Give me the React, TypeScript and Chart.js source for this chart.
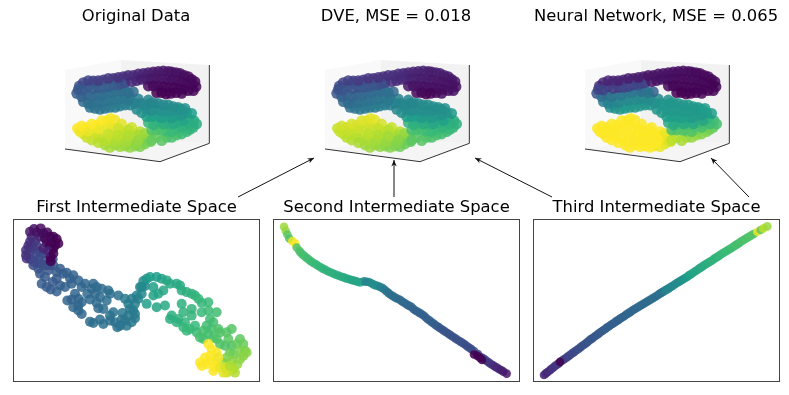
import React, { useEffect, useRef } from "react";
import { Chart, registerables } from "chart.js";

Chart.register(...registerables);

type P3 = number[];

// Shared picture of the S-curve: [x, y, tone in original, tone in DVE, tone in network]
const sCurveBottom: P3[] = [
  [165,285,.86,.85,1],[195,285,.85,.84,1],[225,288,.84,.82,1],[255,288,.82,.80,.98],[285,282,.79,.77,.95],
  [125,270,.9,.88,1],[155,265,.9,.88,1],[185,258,.9,.88,1],[215,265,.87,.85,1],[245,272,.85,.83,1],[275,278,.81,.79,.97],[302,275,.77,.75,.92],
  [100,252,.95,.9,1],[130,248,.95,.9,1],[160,240,.95,.91,1],[190,232,.94,.91,1],[220,245,.9,.88,1],[250,252,.88,.86,1],[280,262,.84,.83,.98],[300,258,.8,.8,.95],
  [82,235,1,.92,1],[110,232,1,.93,1],[140,225,1,.94,1],[170,212,.99,.95,1],[195,210,.98,.96,1],[215,222,.96,.94,1],[245,232,.93,.92,1],[270,245,.89,.89,1],
  [180,292,.86,.85,1],[210,290,.85,.83,1],[240,292,.83,.81,1],[270,290,.8,.78,.97],
  [110,262,.92,.89,1],[140,262,.92,.89,1],[170,272,.89,.87,1],[200,272,.88,.86,1],[230,275,.86,.84,1],[260,280,.83,.81,1],[290,270,.79,.78,.95],[145,278,.89,.87,1],
  [115,243,.97,.91,1],[145,236,.97,.92,1],[175,225,.97,.93,1],[205,235,.93,.91,1],[235,240,.9,.89,1],[265,255,.87,.86,1],[285,250,.85,.84,.97],[90,245,.98,.91,1],
  [175,252,.92,.9,1],[205,255,.9,.88,1],[235,258,.88,.86,1],[265,270,.84,.82,1],
  [95,228,1,.93,1],[125,222,1,.94,1],[155,212,1,.95,1],[182,205,.99,.96,1],
];

const sCurveMiddle: P3[] = [
  [320,262,.76,.74,.88],[350,262,.72,.72,.85],[380,255,.70,.70,.83],[410,245,.67,.68,.8],[430,232,.64,.66,.75],
  [320,240,.72,.70,.72],[350,245,.68,.68,.72],[380,238,.65,.66,.7],[405,225,.62,.64,.68],[432,212,.6,.62,.66],
  [295,218,.66,.64,.6],[325,222,.63,.62,.6],[355,225,.61,.6,.6],[385,218,.59,.58,.58],[415,205,.57,.56,.58],
  [290,200,.57,.56,.55],[320,203,.56,.55,.55],[350,205,.55,.54,.55],[380,200,.53,.52,.54],[410,188,.52,.5,.53],
  [260,178,.47,.46,.52],[290,178,.48,.47,.53],[320,180,.49,.48,.53],[350,185,.5,.49,.53],[380,178,.5,.49,.54],
  [240,142,.41,.41,.45],[265,147,.43,.43,.47],[295,150,.45,.44,.5],[325,160,.46,.46,.52],[355,165,.48,.48,.53],[385,172,.5,.5,.54],
  [120,172,.38,.38,.5],[150,178,.39,.4,.53],[180,172,.4,.41,.54],[210,168,.42,.42,.53],[240,165,.44,.43,.52],[270,160,.45,.45,.52],[300,160,.46,.46,.52],
  [100,155,.34,.33,.42],[130,158,.37,.35,.45],[160,155,.38,.36,.47],[190,150,.39,.37,.47],[220,145,.39,.38,.45],[250,125,.34,.34,.3],
  [80,130,.28,.27,.26],[110,135,.32,.3,.32],[140,135,.35,.32,.38],[170,130,.36,.33,.39],[200,125,.36,.35,.38],[225,120,.36,.35,.35],
  [305,270,.76,.74,.9],[335,272,.74,.73,.87],[365,262,.71,.71,.84],[395,252,.68,.69,.81],[420,238,.65,.67,.78],[440,222,.62,.63,.7],
  [305,240,.72,.7,.7],[335,240,.7,.69,.72],[365,245,.67,.67,.72],[395,232,.64,.65,.7],[420,222,.62,.63,.68],
  [310,225,.65,.63,.6],[340,222,.62,.61,.6],[370,222,.6,.59,.6],[400,212,.58,.57,.59],
  [305,200,.56,.55,.55],[335,203,.55,.54,.55],[365,203,.54,.53,.54],[395,195,.52,.51,.53],[425,190,.55,.53,.56],
  [275,188,.5,.49,.53],[305,182,.49,.48,.53],[335,183,.5,.49,.53],[365,182,.5,.49,.53],[395,178,.5,.49,.54],
  [255,160,.44,.44,.5],[285,165,.46,.46,.52],[310,158,.46,.46,.52],[340,165,.47,.48,.52],[370,170,.49,.49,.53],[405,175,.5,.5,.55],
  [135,175,.38,.39,.5],[165,175,.39,.4,.53],[195,172,.41,.41,.53],[225,165,.43,.42,.52],
  [115,160,.36,.34,.44],[145,158,.37,.36,.46],[175,152,.38,.37,.47],[205,148,.39,.38,.47],[235,150,.4,.4,.48],
  [95,140,.32,.3,.36],[125,140,.34,.32,.38],[155,135,.35,.33,.39],[185,128,.36,.34,.39],[215,125,.36,.35,.36],[235,128,.36,.36,.38],
];

const sCurveTop: P3[] = [
  [88,108,.26,.23,.12],[115,110,.27,.25,.14],[145,112,.29,.27,.16],[175,110,.3,.27,.2],[205,105,.28,.26,.24],[225,98,.22,.22,.2],
  [100,98,.21,.2,.1],[130,93,.19,.18,.1],[160,90,.17,.16,.09],[190,85,.15,.15,.08],[220,80,.13,.14,.07],[250,76,.11,.13,.05],
  [280,70,.09,.11,.05],[310,66,.07,.1,.04],[340,63,.06,.09,.03],[365,66,.05,.08,.03],[390,70,.04,.08,.02],[415,80,.03,.07,.02],[435,95,.02,.06,.02],
  [260,92,.1,.12,.05],[290,88,.07,.1,.04],[320,85,.06,.08,.03],[350,88,.04,.07,.02],[380,92,.03,.06,.02],[410,100,.02,.05,.01],[438,110,.02,.05,.01],
  [295,108,.03,.06,.02],[325,108,.02,.05,.01],[355,112,.01,.04,.01],[385,115,.01,.04,.01],[415,122,.01,.04,.01],
  [320,128,.0,.02,.0],[348,132,.0,.0,.0],[378,128,.0,.02,.0],
  [85,118,.27,.24,.2],[100,120,.28,.26,.2],[130,115,.29,.26,.18],[160,112,.3,.27,.2],[190,105,.29,.26,.2],[215,100,.25,.24,.2],
  [115,92,.2,.19,.1],[145,92,.18,.17,.09],[175,85,.16,.15,.08],[205,82,.14,.14,.07],[235,76,.12,.13,.05],[265,72,.1,.12,.05],
  [295,68,.08,.1,.04],[325,64,.06,.09,.03],[355,64,.05,.08,.03],[378,68,.04,.08,.02],[403,76,.03,.07,.02],[425,88,.02,.06,.02],
  [245,95,.11,.13,.05],[275,88,.08,.11,.04],[305,86,.06,.09,.03],[335,86,.05,.07,.02],[365,90,.03,.06,.02],[395,96,.02,.05,.01],[425,105,.02,.05,.01],
  [310,108,.02,.05,.01],[340,110,.01,.04,.01],[370,113,.01,.04,.01],[400,118,.01,.04,.01],[430,122,.01,.04,.01],
  [335,128,0,.02,0],[362,130,0,.01,0],[395,130,.01,.03,.01],
];

// First intermediate space: [x, y, tone]
const firstSpaceBlue: P3[] = [
  [70,150,.24],[90,175,.27],[95,205,.29],[115,165,.27],[128,200,.28],[122,222,.29],[140,170,.29],[160,175,.3],[150,210,.3],[180,190,.31],
  [172,255,.32],[195,235,.32],[190,275,.33],[215,295,.33],[205,250,.33],[215,215,.33],[232,235,.34],[250,205,.34],[240,252,.34],[275,220,.35],[260,262,.35],
  [300,235,.36],[280,280,.36],[325,240,.36],[240,318,.36],[270,312,.36],[300,300,.37],[315,320,.37],[322,335,.38],[350,330,.39],[375,308,.41],
  [338,292,.4],[355,265,.42],[380,240,.44],[390,215,.46],[400,197,.48],[370,285,.42],[385,250,.45],[345,250,.41],[310,290,.38],[335,312,.39],
  [85,160,.26],[105,185,.28],[100,150,.26],[130,150,.28],[150,160,.29],[170,172,.3],[140,190,.29],[190,180,.31],[165,215,.31],[110,215,.29],
  [140,228,.3],[185,205,.31],[205,195,.32],[225,205,.33],[185,252,.32],[205,270,.33],[215,260,.33],[205,285,.33],[245,220,.34],[260,215,.35],
  [295,225,.36],[255,235,.34],[270,245,.35],[290,255,.36],[265,278,.35],[250,322,.36],[280,325,.37],[300,315,.37],[330,330,.38],[345,315,.39],
  [355,300,.4],[365,320,.4],[375,295,.41],[360,280,.41],[375,265,.43],[365,250,.42],[395,235,.46],[405,212,.48],[410,190,.52],[395,215,.47],
];
const firstSpaceGreen: P3[] = [
  [420,185,.55],[455,190,.58],[480,205,.6],[510,210,.61],[530,230,.63],[555,240,.65],[575,262,.66],[595,260,.67],[620,290,.69],[610,320,.7],
  [430,240,.57],[460,225,.59],[410,265,.56],[440,275,.58],[465,270,.6],[485,300,.62],[515,265,.63],[545,280,.65],[575,290,.67],[525,320,.66],
  [560,350,.68],[580,370,.71],[605,340,.71],[610,365,.72],[630,350,.72],[665,340,.73],[645,390,.72],[665,390,.72],[600,310,.69],[590,330,.69],
  [520,335,.66],[480,310,.62],[540,340,.67],[570,365,.7],[690,370,.75],[700,385,.77],[705,405,.79],[690,430,.82],[660,410,.76],[640,440,.84],[682,445,.84],
  [440,185,.55],[430,215,.56],[445,235,.58],[470,195,.59],[500,205,.6],[515,225,.62],[545,235,.64],[565,250,.66],[595,285,.68],[520,290,.64],
  [545,300,.65],[505,310,.64],[500,320,.63],[530,345,.67],[555,330,.67],[580,345,.7],[595,355,.7],[625,340,.72],[650,350,.73],[620,370,.72],
  [630,385,.72],[655,370,.74],[680,385,.76],[670,415,.78],[650,425,.8],[690,405,.8],[700,420,.82],[665,435,.82],
];
const firstSpaceYellow: P3[] = [
  [670,460,.88],[650,470,.92],[710,410,.82],[675,470,.88],[655,465,.92],[640,470,.96],
  [610,465,1],[620,440,.98],[590,445,1],[570,440,1],[600,420,1],[620,410,.99],[605,400,1],[595,385,1],
  [615,455,1],[630,455,.97],[645,455,.94],[660,450,.88],[600,435,1],[585,425,1],[575,450,1],[625,425,.98],
];
const firstSpaceHead: P3[] = [
  [48,120,.14],[62,132,.17],[85,132,.22],[105,135,.22],[55,92,.13],[70,100,.18],[90,110,.24],[65,65,.13],[90,65,.08],
  [60,50,.07],[80,52,.05],[100,55,.03],[75,78,.12],[60,80,.13],[48,105,.13],[62,108,.16],[80,92,.17],[100,115,.22],
  [78,118,.22],[50,130,.15],[90,145,.24],[72,140,.22],[108,150,.25],[120,150,.25],[128,132,.26],
  [72,42,.05],[92,40,.03],[112,52,.02],[130,65,.0],[145,85,.0],[130,100,.0],[110,85,.0],[122,125,.0],[100,100,.1],
  [120,65,.01],[140,72,0],[135,90,0],[120,90,0],[105,70,.02],[115,108,.1],[130,115,0],[122,138,0],
];

// Second intermediate space: [x, y, tone]
const secondSpace: P3[] = [
  [42,35,.85],[47,47,.84],[52,58,.75],[58,70,.72],[67,78,.97],[76,85,1],[80,97,.72],[88,107,.72],[97,118,.7],[108,127,.7],[120,136,.69],[132,144,.68],
  [145,152,.67],[158,160,.66],[172,167,.65],[186,173,.64],[200,179,.63],[214,184,.62],[228,189,.61],[242,193,.6],[256,197,.59],[270,201,.58],
  [282,198,.45],[296,200,.47],[310,207,.5],[324,212,.47],[338,218,.44],[350,228,.38],[362,238,.36],[375,246,.36],[388,252,.35],[400,260,.34],
  [412,268,.34],[424,274,.33],[436,285,.32],[448,292,.31],[460,299,.31],[472,310,.3],[484,319,.3],[496,328,.3],[508,336,.28],[520,344,.27],
  [532,352,.27],[544,360,.26],[556,368,.26],[568,376,.25],[580,383,.25],[592,392,.24],[604,400,.23],[640,428,.2],[652,437,.18],[664,445,.14],
  [676,453,.12],[688,460,.1],[700,467,.08],[710,473,.06],
  [92,112,.71],[103,122,.7],[114,131,.69],[126,140,.68],[139,148,.67],[152,156,.66],[165,163,.65],[179,170,.64],[193,176,.63],[207,181,.62],[221,186,.61],
  [235,191,.6],[249,195,.59],[263,199,.58],[289,199,.46],[303,203,.48],[317,210,.49],[331,215,.45],[344,223,.4],[356,233,.37],[369,242,.36],[381,249,.35],
  [394,256,.34],[406,264,.34],[418,271,.33],[430,280,.32],[442,288,.32],[454,295,.31],[466,304,.3],[478,314,.3],[490,323,.3],[502,332,.29],[514,340,.27],
  [526,348,.27],[538,356,.26],[550,364,.26],[562,372,.25],[574,379,.25],[586,387,.24],[598,396,.24],[612,406,.23],[624,415,.22],[634,424,.21],[646,432,.2],[658,441,.16],[670,449,.13],[682,456,.11],[694,463,.09],
  [612,416,0],[622,420,0],[630,426,0],[636,432,0],
];

// Third intermediate space: [x, y, tone]
const thirdSpace: P3[] = [
  [42,477,.1],[52,469,.12],[62,461,.14],[72,453,.16],[82,446,.17],[102,430,.2],[112,423,.21],[122,416,.22],[132,409,.23],[142,402,.24],[152,394,.25],
  [162,387,.26],[172,379,.27],[182,371,.27],[192,364,.28],[202,357,.28],[212,349,.29],[222,342,.29],[232,335,.3],[242,328,.3],[252,322,.31],[262,315,.31],
  [272,308,.32],[282,302,.32],[292,295,.33],[302,289,.33],[312,282,.33],[322,276,.34],[332,270,.34],[342,264,.35],[352,258,.35],[362,252,.36],[372,246,.36],
  [382,240,.37],[392,233,.38],[402,227,.45],[412,221,.46],[422,215,.47],[432,209,.48],[442,202,.49],[452,196,.5],[462,190,.52],[472,184,.56],[482,177,.58],
  [492,170,.59],[502,164,.6],[512,157,.61],[522,150,.62],[532,144,.63],[542,138,.64],[552,131,.65],[562,125,.66],[572,118,.67],[582,112,.68],[592,106,.68],
  [602,100,.69],[612,93,.7],[622,87,.7],[632,80,.71],[642,74,.72],[652,68,.72],[662,62,.73],[672,56,.74],
  [47,473,.11],[57,465,.13],[67,457,.15],[77,449,.16],[87,442,.18],[97,434,.19],[107,427,.2],[117,420,.21],[127,412,.22],[137,405,.23],[147,398,.24],
  [157,390,.25],[167,383,.26],[177,375,.27],[187,368,.27],[197,360,.28],[207,353,.28],[217,346,.29],[227,339,.3],[237,332,.3],[247,325,.3],[257,318,.31],
  [267,312,.31],[277,305,.32],[287,298,.32],[297,292,.33],[307,285,.33],[317,279,.33],[327,273,.34],[337,267,.34],[347,261,.35],[357,255,.35],[367,249,.36],
  [377,243,.36],[387,236,.37],[397,230,.38],[407,224,.45],[417,218,.46],[427,212,.47],[437,205,.48],[447,199,.49],[457,193,.51],[467,187,.54],[477,180,.57],
  [487,174,.58],[497,167,.59],[507,160,.6],[517,154,.61],[527,147,.62],[537,141,.63],[547,135,.64],[557,128,.65],[567,122,.66],[577,115,.67],[587,109,.68],
  [597,103,.68],[607,97,.69],[617,90,.7],[627,84,.7],[637,77,.71],[647,71,.72],[657,65,.72],[667,59,.73],
  [682,50,.98],[692,45,.75],[700,40,.9],[712,34,.85],[90,438,0],
];

const topTitles = ["Original Data", "DVE, MSE = 0.018", "Neural Network, MSE = 0.065"];
const spaceTitles = ["First Intermediate Space", "Second Intermediate Space", "Third Intermediate Space"];

const boxEdges = [{ x: 45, y: 297 }, { x: 330, y: 335 }, { x: 478, y: 280 }, { x: 478, y: 45 }];
const leftWall = [[45, 60], [212, 30], [212, 270], [45, 297]];
const rightWall = [[212, 30], [478, 45], [478, 280], [212, 270]];
const floorPane = [[45, 297], [212, 270], [478, 280], [330, 335]];

// [start x, start y, tip x, tip y]
const arrows = [
  [238, 197, 314, 158],
  [394, 197, 394, 160],
  [552, 197, 475, 158],
  [749, 197, 711, 158],
];

const viridisStops = [
  [68, 1, 84], [72, 40, 120], [62, 73, 137], [49, 104, 142], [38, 130, 142], [31, 158, 137],
  [53, 183, 121], [110, 206, 88], [181, 222, 43], [253, 231, 37],
];

const tone = (t: number) => {
  const v = Math.min(1, Math.max(0, t)) * (viridisStops.length - 1);
  const i = Math.min(viridisStops.length - 2, Math.floor(v));
  const f = v - i;
  const c = viridisStops[i].map((a, k) => Math.round(a + (viridisStops[i + 1][k] - a) * f));
  return `rgba(${c[0]},${c[1]},${c[2]},0.85)`;
};

const FONT = "'DejaVu Sans'";
const TITLE_SIZE = 16.4;

const baseOptions = (title: string, padding: any, titleBottom: number, titleTop: number, xr: number[], yr: number[]) => ({
  responsive: false,
  maintainAspectRatio: false,
  animation: false as const,
  events: [] as any[],
  layout: { padding, autoPadding: false },
  plugins: {
    legend: { display: false },
    tooltip: { enabled: false },
    title: {
      display: true,
      text: title,
      color: "#000",
      font: { family: FONT, size: TITLE_SIZE, weight: "normal" as const, lineHeight: 1.2 },
      padding: { top: titleTop, bottom: titleBottom },
    },
  },
  scales: {
    x: { type: "linear" as const, display: false, min: xr[0], max: xr[1] },
    y: { type: "linear" as const, display: false, reverse: true, min: yr[0], max: yr[1] },
  },
});

const panesPlugin = {
  id: "panes",
  beforeDatasetsDraw(chart: any) {
    const { ctx, scales } = chart;
    const walls: [number[][], string][] = [
      [leftWall, "#f9f9f9"],
      [rightWall, "#f2f2f2"],
      [floorPane, "#f5f5f5"],
    ];
    ctx.save();
    for (const [poly, fill] of walls) {
      ctx.beginPath();
      poly.forEach((p, i) => {
        const px = scales.x.getPixelForValue(p[0]);
        const py = scales.y.getPixelForValue(p[1]);
        if (i === 0) ctx.moveTo(px, py);
        else ctx.lineTo(px, py);
      });
      ctx.closePath();
      ctx.fillStyle = fill;
      ctx.fill();
    }
    ctx.restore();
  },
};

const framePlugin = {
  id: "frame",
  afterDatasetsDraw(chart: any) {
    const { ctx, chartArea: a } = chart;
    ctx.save();
    ctx.strokeStyle = "#444";
    ctx.lineWidth = 1;
    ctx.strokeRect(a.left + 0.5, a.top + 0.5, a.right - a.left - 1, a.bottom - a.top - 1);
    ctx.restore();
  },
};

const arrowPlugin = {
  id: "arrowHeads",
  afterDatasetsDraw(chart: any) {
    const { ctx, scales } = chart;
    ctx.save();
    ctx.fillStyle = "#111";
    ctx.strokeStyle = "#111";
    ctx.lineWidth = 1;
    for (const a of arrows) {
      const x0 = scales.x.getPixelForValue(a[0]);
      const y0 = scales.y.getPixelForValue(a[1]);
      const x1 = scales.x.getPixelForValue(a[2]);
      const y1 = scales.y.getPixelForValue(a[3]);
      const ang = Math.atan2(y1 - y0, x1 - x0);
      ctx.beginPath();
      ctx.moveTo(x0, y0);
      ctx.lineTo(x1, y1);
      ctx.stroke();
      ctx.beginPath();
      ctx.moveTo(x1, y1);
      ctx.lineTo(x1 - 7 * Math.cos(ang - 0.4), y1 - 7 * Math.sin(ang - 0.4));
      ctx.lineTo(x1 - 4.5 * Math.cos(ang), y1 - 4.5 * Math.sin(ang));
      ctx.lineTo(x1 - 7 * Math.cos(ang + 0.4), y1 - 7 * Math.sin(ang + 0.4));
      ctx.closePath();
      ctx.fill();
    }
    ctx.restore();
  },
};

const scatterSet = (pts: P3[], tones: number[], radius: number) => ({
  type: "scatter" as const,
  data: pts.map((p) => ({ x: p[0], y: p[1] })),
  pointBackgroundColor: tones.map(tone),
  pointBorderWidth: 0,
  pointRadius: radius,
  showLine: false,
  clip: false,
});

const allCurve = [...sCurveBottom, ...sCurveMiddle, ...sCurveTop];

const makers: ((c: HTMLCanvasElement) => Chart)[] = [
  ...[2, 3, 4].map((i, k) => (c: HTMLCanvasElement) =>
    new Chart(c, {
      type: "scatter",
      data: {
        datasets: [
          scatterSet(allCurve, allCurve.map((p) => p[i]), 5.4),
          {
            type: "line" as const,
            data: boxEdges,
            borderColor: "#333",
            borderWidth: 1,
            pointRadius: 0,
            fill: false,
            order: 1,
          },
        ] as any,
      },
      options: baseOptions(topTitles[k], {}, 23.32, 7, [-132, 648], [0, 360]) as any,
      plugins: [panesPlugin],
    })
  ),
  ...[
    [...firstSpaceBlue, ...firstSpaceGreen, ...firstSpaceYellow, ...firstSpaceHead],
    secondSpace,
    thirdSpace,
  ].map((pts, k) => (c: HTMLCanvasElement) =>
    new Chart(c, {
      type: "scatter",
      data: { datasets: [scatterSet(pts, pts.map((p) => p[2]), k === 0 ? 5 : 4.3)] as any },
      options: baseOptions(spaceTitles[k], { left: k === 0 ? 13 : 10, right: k === 0 ? 13 : 10 }, 1.32, 3, [9, 750], [12, 498]) as any,
      plugins: [framePlugin],
    })
  ),
  (c: HTMLCanvasElement) =>
    new Chart(c, {
      type: "scatter",
      data: { datasets: [] },
      options: {
        responsive: false,
        maintainAspectRatio: false,
        animation: false,
        events: [],
        layout: { autoPadding: false },
        plugins: { legend: { display: false }, tooltip: { enabled: false } },
        scales: {
          x: { type: "linear", display: false, min: 0, max: 789 },
          y: { type: "linear", display: false, reverse: true, min: 0, max: 395 },
        },
      } as any,
      plugins: [arrowPlugin],
    }),
];

const frames = [
  { left: 6, top: 0, width: 260, height: 170 },
  { left: 266, top: 0, width: 260, height: 170 },
  { left: 526, top: 0, width: 260, height: 170 },
  { left: 0, top: 195, width: 273, height: 187 },
  { left: 263, top: 195, width: 267, height: 187 },
  { left: 523, top: 195, width: 267, height: 187 },
  { left: 0, top: 0, width: 789, height: 395 },
];

export default function App() {
  const refs = useRef<(HTMLCanvasElement | null)[]>([]);
  useEffect(() => {
    const charts = makers.map((m, i) => m(refs.current[i]!));
    return () => charts.forEach((c) => c.destroy());
  }, []);
  return (
    <div style={{ position: "absolute", left: 0, top: 0, width: 789, height: 395, overflow: "hidden", background: "#fff" }}>
      {frames.map((f, i) => (
        <canvas
          key={i}
          ref={(el) => {
            refs.current[i] = el;
          }}
          width={f.width}
          height={f.height}
          style={{ position: "absolute", left: f.left, top: f.top, width: f.width, height: f.height, display: "block" }}
        />
      ))}
    </div>
  );
}
